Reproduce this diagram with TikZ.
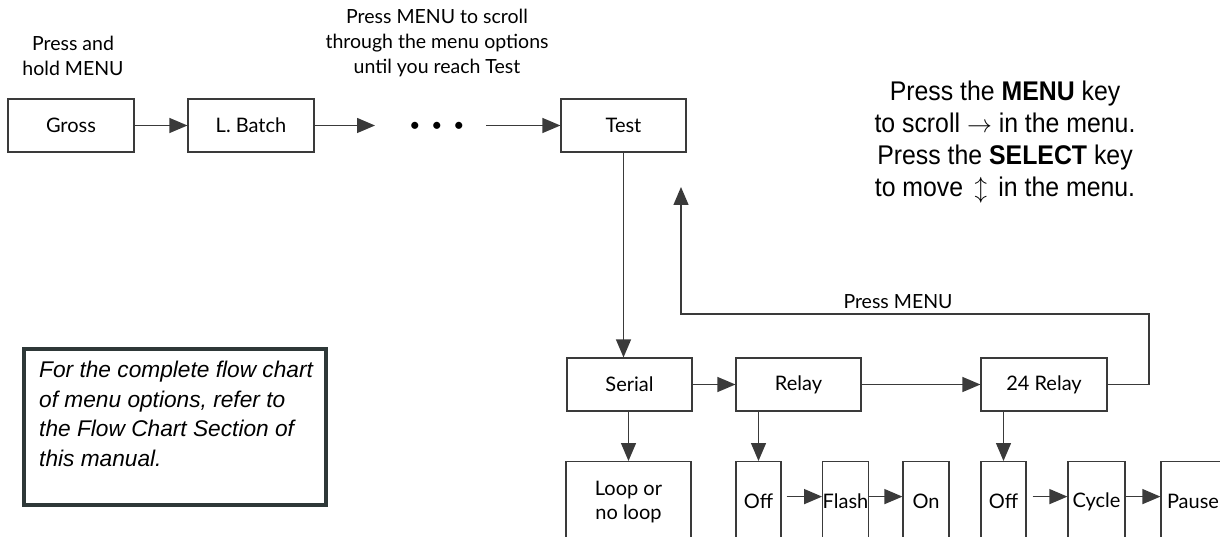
\documentclass[tikz,border=0pt]{standalone}
\usepackage{fontspec}
\setmainfont{Lato}
\newfontfamily\narrowfont[FakeStretch=0.92]{Liberation Sans}
\newfontfamily\notefont{Liberation Sans}
\usetikzlibrary{arrows.meta}
\definecolor{linegray}{HTML}{3A3A3A}
\definecolor{framegray}{HTML}{2E3838}

\tikzset{
    menubox/.style={draw=linegray, line width=1.2pt, minimum height=53pt, inner sep=0pt,
        font=\fontsize{20}{24}\selectfont},
    optbox/.style={menubox, minimum height=80pt, anchor=north},
    captext/.style={align=center, font=\fontsize{19.5}{25}\selectfont},
    flow/.style={draw=linegray, line width=1.3pt, -{Triangle[length=18pt,width=15pt]}}
}

\begin{document}
\begin{tikzpicture}[x=1pt, y=-1pt]
        \clip (0,0) rectangle (1220,537);

        \node[menubox, minimum width=126pt] (gross) at (71,125.5) {Gross};
        \node[menubox, minimum width=126pt] (lbatch) at (251,125.5) {L. Batch};
        \node[menubox, minimum width=125pt] (test) at (623.5,125.5) {Test};
        \node[font=\fontsize{19}{19}\selectfont] (dots) at (437,126.5) {\textbullet\hspace{11pt}\textbullet\hspace{11pt}\textbullet};
        \coordinate (dotsin) at (375,125.5);
        \coordinate (dotsout) at (486,125.5);

        \node[captext] (holdtext) at (73,55.5) {Press and\\hold MENU};
        \node[captext] (scrolltext) at (437,43) {Press MENU to scroll\\through the menu options\\until you reach Test};

        \node[align=center, font=\narrowfont\fontsize{27}{32}\selectfont] (keytext) at (1005,142)
            {Press the \textbf{MENU} key\\to scroll $\rightarrow$ in the menu.\\Press the \textbf{SELECT} key\\to move \,$\updownarrow$\, in the menu.};

        \node[menubox, minimum width=125pt] (serial) at (629.5,384.5) {Serial};
        \node[menubox, minimum width=125pt] (relay) at (798.5,384.5) {Relay};
        \node[menubox, minimum width=126pt] (relaytf) at (1044,384.5) {24 Relay};

        \node[optbox, minimum width=125pt, align=center, font=\fontsize{20}{24}\selectfont] (loop) at (628.5,461) {Loop or\\no loop};
        \node[optbox, minimum width=45pt] (offa) at (758.5,461) {Off};
        \node[optbox, minimum width=45pt] (flash) at (845.5,461) {Flash};
        \node[optbox, minimum width=46pt] (on) at (926,461) {On};
        \node[optbox, minimum width=45pt] (offb) at (1003.5,461) {Off};
        \node[optbox, minimum width=57pt] (cycle) at (1096.5,461) {Cycle};
        \node[optbox, minimum width=64pt] (pause) at (1193,461) {Pause};

        \draw[flow] (gross) -- (lbatch);
        \draw[flow] (lbatch) -- (dotsin);
        \draw[flow] (dotsout) -- (test);
        \draw[flow] (test.south) -- (test.south |- serial.north);
        \draw[flow] (serial) -- (relay);
        \draw[flow] (relay) -- (relaytf);
        \draw[flow] (loop.north |- serial.south) -- (loop.north);
        \draw[flow] (offa.north |- relay.south) -- (offa.north);
        \draw[flow] (offb.north |- relaytf.south) -- (offb.north);
        \draw[flow, shorten <=5pt] ([yshift=5pt]offa.east) -- ([yshift=5pt]flash.west);
        \draw[flow] ([yshift=5pt]flash.east) -- ([yshift=5pt]on.west);
        \draw[flow, shorten <=6pt] ([yshift=5pt]offb.east) -- ([yshift=5pt]cycle.west);
        \draw[flow] ([yshift=5pt]cycle.east) -- ([yshift=5pt]pause.west);

        \coordinate (backright) at (1149,314);
        \coordinate (backtip) at (681,187);
        \draw[flow] (relaytf.east) -| (backright) -| (backtip);
        \node[font=\fontsize{19.5}{24}\selectfont] (pressmenu) at (898,302) {Press MENU};

        \node[draw=framegray, line width=4pt, minimum width=302pt, minimum height=156pt] (noteframe) at (175,427) {};
        \node[anchor=north west, align=left, inner sep=0pt, font=\notefont\itshape\fontsize{22.7}{29.5}\selectfont] (notetext)
            at (39,361) {For the complete flow chart\\of menu options, refer to\\the Flow Chart Section of\\this manual.};
\end{tikzpicture}
\end{document}
